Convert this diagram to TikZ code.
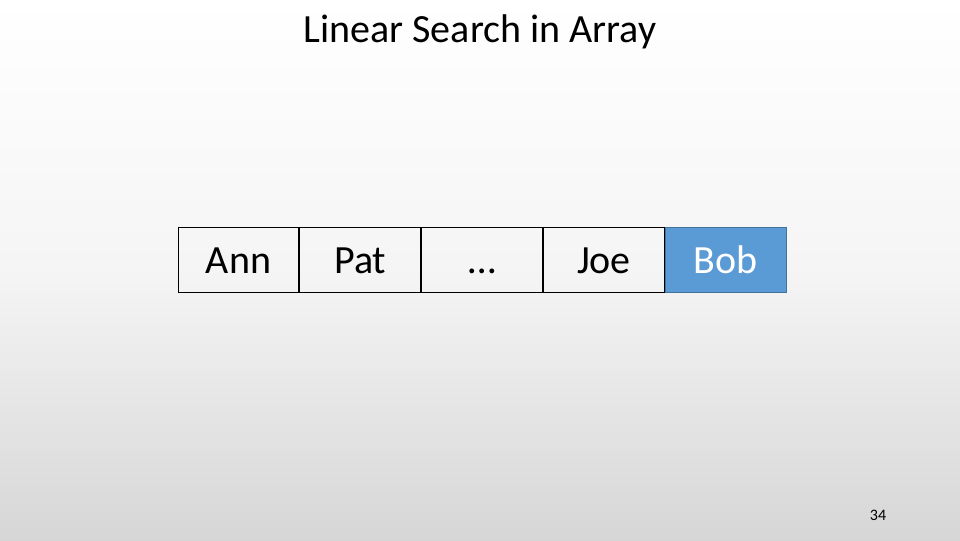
\documentclass[tikz,border=0pt]{standalone}
\usepackage{fontspec}
\setmainfont{Carlito}
\usepackage{xcolor}
\usetikzlibrary{positioning}

\definecolor{bobblue}{HTML}{5B9BD5}
\definecolor{bobedge}{HTML}{41719C}

\begin{document}
\begin{tikzpicture}[x=0.75pt, y=0.75pt,
    cell/.style={draw, line width=0.75pt, minimum width=90.6pt, minimum height=49pt,
        inner sep=0pt, text height=21pt, text depth=1.5pt,
        font=\fontsize{30}{36}\selectfont},
    found/.style={cell, fill=bobblue, draw=bobedge, line width=1pt, text=white}]
% slide background
\shade[top color=white, bottom color=black!16, middle color=white!96!black]
    (0,0) rectangle (960,540);
\useasboundingbox (0,0) rectangle (960,540);

\node[font=\fontsize{30}{36}\selectfont] (title) at (480,508) {Linear Search in Array};

\node[cell] (ann) at (238.5,280) {Ann};
\node[cell, right=0pt of ann] (pat) {Pat};
\node[cell, right=0pt of pat] (dots) {…};
\node[cell, right=0pt of dots] (joe) {Joe};
\node[found, right=0pt of joe] (bob) {Bob};

\node[font=\fontsize{12}{14}\selectfont] (pagenum) at (878,25) {34};
\end{tikzpicture}
\end{document}
